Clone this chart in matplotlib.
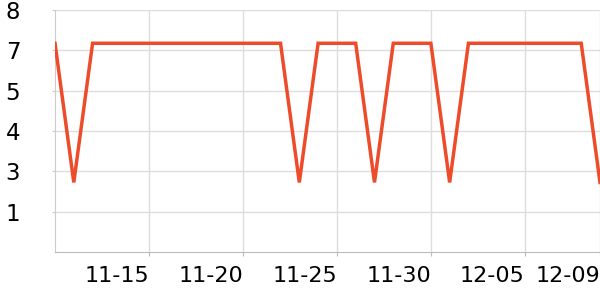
import matplotlib
matplotlib.use("Agg")
import matplotlib.pyplot as plt
import matplotlib.dates as mdates
import numpy as np
from datetime import datetime, timedelta

# daily values, 11-10 .. 12-09
start = datetime(2023, 11, 10)
values = [6.9, 2.3, 6.9, 6.9, 6.9, 6.9, 6.9, 6.9, 6.9, 6.9,
          6.9, 6.9, 6.9, 2.3, 6.9, 6.9, 6.9, 2.3, 6.9, 6.9,
          6.9, 2.3, 6.9, 6.9, 6.9, 6.9, 6.9, 6.9, 6.9, 2.3]
dates = [start + timedelta(days=i) for i in range(len(values))]

tickDates = [datetime(2023, 11, 15), datetime(2023, 11, 20), datetime(2023, 11, 25),
             datetime(2023, 11, 30), datetime(2023, 12, 5), datetime(2023, 12, 9)]
yTicks = np.linspace(0, 8, 7)[1:]

fig = plt.figure(figsize=(6, 3), dpi=100)
ax = fig.add_axes([55 / 600, 48 / 300, 545 / 600, 242 / 300])

ax.plot(dates, values, color='#ee4b2b', linewidth=2.5, solid_joinstyle='miter', zorder=3)

ax.set_xlim(dates[0], dates[-1])
ax.set_ylim(0, 8)

ax.set_xticks(tickDates)
ax.xaxis.set_major_formatter(mdates.DateFormatter('%m-%d'))
ax.set_yticks(yTicks)
ax.set_yticklabels(["%.0f" % v for v in yTicks])

for lbl in ax.get_xticklabels():
    lbl.set_horizontalalignment('right')

ax.tick_params(axis='x', labelsize=16, length=3, color='#bbbbbb', pad=7)
ax.tick_params(axis='y', labelsize=16.5, length=2, color='#cccccc', pad=23)

ax.grid(True, color='#dddddd', linewidth=1)
ax.set_axisbelow(True)

for s in ['top', 'right']:
    ax.spines[s].set_visible(False)
ax.spines['left'].set_color('#cccccc')
ax.spines['bottom'].set_color('#bbbbbb')

fig.savefig('out.png', dpi=100)
